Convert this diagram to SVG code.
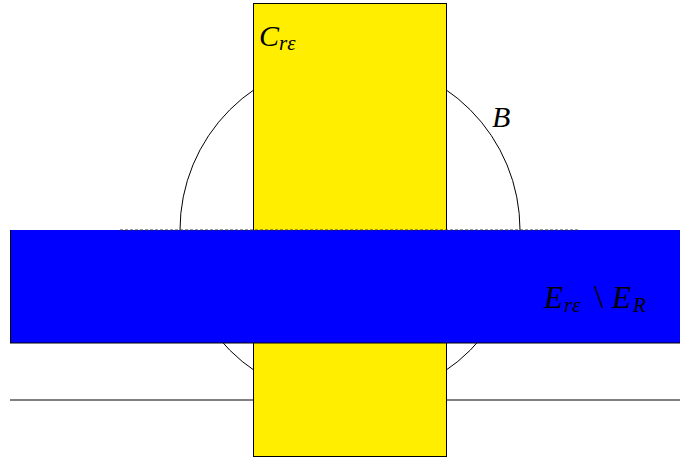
<svg xmlns="http://www.w3.org/2000/svg" width="680" height="460" viewBox="0 0 680 460">
<style>
.ln{fill:none;stroke:#000;stroke-width:1}
.t{font-family:"Liberation Serif","DejaVu Serif",serif;font-style:italic;fill:#000}
</style>
<rect width="680" height="460" fill="#fff"/>
<g id="circle-B"><circle class="ln" cx="350" cy="230" r="170"/></g>
<g id="baseline"><line class="ln" x1="10" y1="400" x2="680" y2="400" stroke="#555"/></g>
<g id="C"><rect x="253.5" y="3.5" width="193" height="453" fill="#ffee00" stroke="#000" stroke-width="1"/></g>
<g id="E"><rect x="10" y="230" width="670" height="113" fill="#0000ff"/>
<line x1="10" y1="343" x2="680" y2="343" stroke="#000" stroke-width="1"/>
<line x1="10.5" y1="230" x2="10.5" y2="343" stroke="#000" stroke-width="1"/>
<line x1="120" y1="230" x2="580" y2="230" stroke="#333" stroke-width="1" stroke-dasharray="3,2"/></g>
<g id="labels">
<text class="t" x="259" y="46" font-size="30">C<tspan font-size="21" dy="4">rε</tspan></text>
<text class="t" x="492" y="127" font-size="30">B</text>
<text class="t" x="544" y="308" font-size="31">E<tspan font-size="21" dy="4" x="564">rε</tspan><tspan dy="-4" x="594" font-style="normal" font-size="34">\</tspan><tspan x="612">E</tspan><tspan font-size="21" dy="4" x="633">R</tspan></text>
</g>
</svg>
